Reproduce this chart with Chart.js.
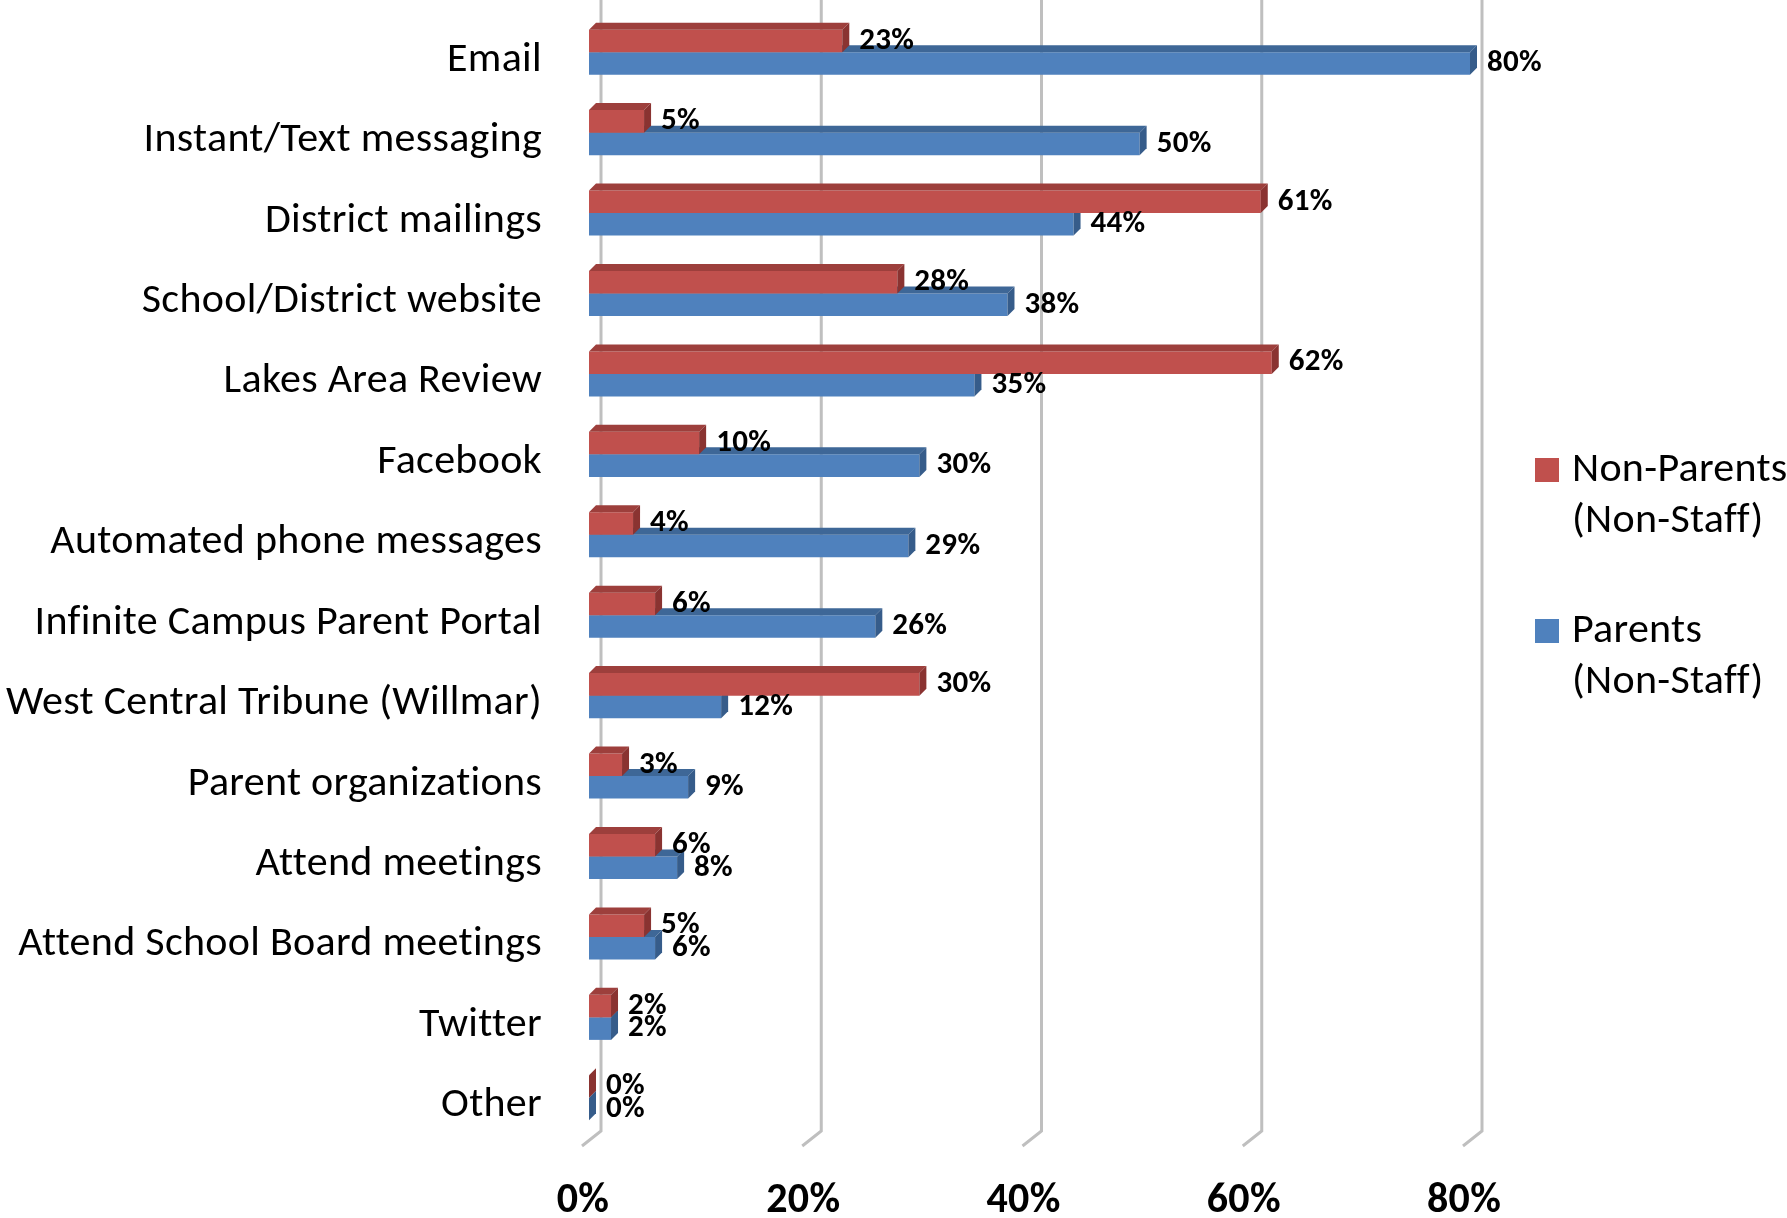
<!DOCTYPE html>
<html>
<head>
<meta charset="utf-8">
<title>Communication sources</title>
<script src="https://cdn.jsdelivr.net/npm/chart.js@4.4.1/dist/chart.umd.min.js"></script>
<style>
    html, body { margin: 0; padding: 0; background: #fff; }
    .chart-wrapper { width: 1787px; height: 1218px; position: relative; }
</style>
</head>
<body>
<div class="chart-wrapper">
    <canvas id="chart"></canvas>
</div>
<script>
const categories = [
    'Email',
    'Instant/Text messaging',
    'District mailings',
    'School/District website',
    'Lakes Area Review',
    'Facebook',
    'Automated phone messages',
    'Infinite Campus Parent Portal',
    'West Central Tribune (Willmar)',
    'Parent organizations',
    'Attend meetings',
    'Attend School Board meetings',
    'Twitter',
    'Other'
];
const nonParents = [23, 5, 61, 28, 62, 10, 4, 6, 30, 3, 6, 5, 2, 0];
const parents = [80, 50, 44, 38, 35, 30, 29, 26, 12, 9, 8, 6, 2, 0];
const xTicks = [0, 20, 40, 60, 80];
const nonParentsName = ['Non-Parents', '(Non-Staff)'];
const parentsName = ['Parents', '(Non-Staff)'];

const FONT = "Carlito, Lato, 'Liberation Sans', sans-serif";
const DEPTH = 7;

// a little letter spacing also switches off the "tt"/"ti" ligatures
const noLigatures = {
    id: 'noLigatures',
    beforeDraw(chart) {
        chart.ctx.letterSpacing = '0.3px';
    }
};

// extruded top and end faces for each bar
const bars3d = {
    id: 'bars3d',
    afterDatasetDraw(chart, args) {
        const ctx = chart.ctx;
        const ds = chart.data.datasets[args.index];
        ctx.save();
        args.meta.data.forEach(bar => {
            const { x, y, base, height } = bar.getProps(['x', 'y', 'base', 'height'], true);
            const top = y - height / 2;
            const bot = y + height / 2;
            ctx.fillStyle = ds.topColor;
            ctx.beginPath();
            ctx.moveTo(base, top);
            ctx.lineTo(x, top);
            ctx.lineTo(x + DEPTH, top - DEPTH);
            ctx.lineTo(base + DEPTH, top - DEPTH);
            ctx.closePath();
            ctx.fill();
            ctx.fillStyle = ds.sideColor;
            ctx.beginPath();
            ctx.moveTo(x, top);
            ctx.lineTo(x + DEPTH, top - DEPTH);
            ctx.lineTo(x + DEPTH, bot - DEPTH);
            ctx.lineTo(x, bot);
            ctx.closePath();
            ctx.fill();
        });
        ctx.restore();
    }
};

// back wall grid lines with the floor edge
const wallGrid = {
    id: 'wallGrid',
    beforeDatasetsDraw(chart) {
        const ctx = chart.ctx;
        const xs = chart.scales.x;
        ctx.save();
        ctx.strokeStyle = '#bfbfbf';
        ctx.lineWidth = 3;
        xTicks.forEach(v => {
            const px = xs.getPixelForValue(v);
            ctx.beginPath();
            ctx.moveTo(px + 12, 0);
            ctx.lineTo(px + 12, 1131);
            ctx.lineTo(px - 7, 1146);
            ctx.stroke();
        });
        ctx.restore();
    }
};

const valueLabels = {
    id: 'valueLabels',
    afterDatasetsDraw(chart) {
        const ctx = chart.ctx;
        ctx.save();
        ctx.font = 'bold 31px ' + FONT;
        ctx.fillStyle = '#000';
        ctx.textAlign = 'left';
        ctx.textBaseline = 'middle';
        chart.data.datasets.forEach((ds, i) => {
            chart.getDatasetMeta(i).data.forEach((bar, j) => {
                ctx.fillText(ds.data[j] + '%', bar.x + 17, bar.y);
            });
        });
        ctx.restore();
    }
};

const sideLegend = {
    id: 'sideLegend',
    afterDraw(chart) {
        const ctx = chart.ctx;
        const rows = [470, 631];
        ctx.save();
        ctx.font = '42px ' + FONT;
        ctx.textAlign = 'left';
        ctx.textBaseline = 'middle';
        chart.data.datasets.forEach((ds, i) => {
            const y = rows[i];
            ctx.fillStyle = ds.backgroundColor;
            ctx.fillRect(1535, y - 12, 24, 24);
            ctx.fillStyle = '#000';
            ds.label.forEach((line, k) => {
                ctx.fillText(line, 1572, y + k * 51);
            });
        });
        ctx.restore();
    }
};

new Chart(document.getElementById('chart'), {
    type: 'bar',
    data: {
        labels: categories,
        datasets: [
            {
                label: nonParentsName,
                data: nonParents,
                backgroundColor: '#c0504d',
                topColor: '#9d3f3c',
                sideColor: '#8a3331'
            },
            {
                label: parentsName,
                data: parents,
                backgroundColor: '#4f81bd',
                topColor: '#3e6797',
                sideColor: '#365c8a'
            }
        ]
    },
    options: {
        indexAxis: 'y',
        responsive: true,
        maintainAspectRatio: false,
        animation: false,
        devicePixelRatio: 1,
        layout: {
            padding: { top: 12, right: 317, left: 0, bottom: 0 }
        },
        datasets: {
            bar: {
                categoryPercentage: 0.56,
                barPercentage: 1,
                borderWidth: 0
            }
        },
        plugins: {
            legend: { display: false },
            tooltip: { enabled: false }
        },
        scales: {
            x: {
                min: 0,
                max: 80,
                afterFit: s => { s.height = 80; },
                grid: { display: false, drawTicks: false },
                border: { display: false },
                afterBuildTicks: s => { s.ticks = xTicks.map(v => ({ value: v })); },
                ticks: {
                    padding: 38,
                    labelOffset: -6,
                    color: '#000',
                    font: { family: FONT, size: 42, weight: 'bold' },
                    callback: v => v + '%'
                }
            },
            y: {
                afterFit: s => {
                    s.width = 589;
                    s.paddingTop = 0;
                    s.paddingBottom = 0;
                },
                grid: { display: false, drawTicks: false },
                border: { display: false },
                ticks: {
                    padding: 47,
                    labelOffset: 8,
                    color: '#000',
                    font: { family: FONT, size: 42 }
                }
            }
        }
    },
    plugins: [noLigatures, wallGrid, bars3d, valueLabels, sideLegend]
});
</script>
</body>
</html>
